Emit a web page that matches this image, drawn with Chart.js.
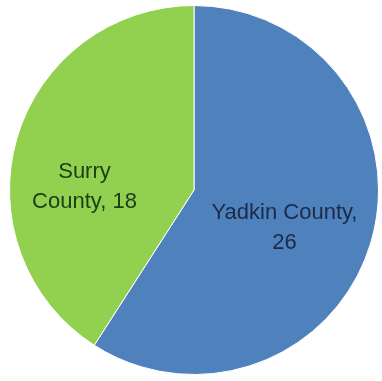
<!DOCTYPE html>
<html>
<head>
<meta charset="utf-8">
<script src="https://cdn.jsdelivr.net/npm/chart.js@4"></script>
<style>
  html, body { margin: 0; padding: 0; background: #ffffff; }
  #countyChart { display: block; }
</style>
</head>
<body>
<canvas id="countyChart" width="382" height="381"></canvas>
<script>
// Counties and their counts
const counties = ['Yadkin County', 'Surry County'];
const counts = [26, 18];
const sliceColors = ['#4f81bd', '#92d050'];
const labelColors = ['#1b2a48', '#1c3d14'];

// Draws "Name, value" labels inside each slice, wrapped the way the office chart does
const sliceLabels = {
    id: 'sliceLabels',
    afterDatasetsDraw(chart) {
        const ctx = chart.ctx;
        const meta = chart.getDatasetMeta(0);
        // line breaks and nudges for each slice label
        const layout = [
            { lines: i => [counties[i] + ',', String(counts[i])], dx: 2, dy: 12 },
            { lines: i => ['Surry', 'County, ' + counts[i]], dx: -21, dy: 23 }
        ];
        ctx.save();
        ctx.font = '22px "Liberation Sans", Arial, sans-serif';
        ctx.textAlign = 'center';
        ctx.textBaseline = 'middle';
        meta.data.forEach((arc, i) => {
            const p = arc.tooltipPosition();
            const lines = layout[i].lines(i);
            const lineHeight = 30;
            const top = p.y + layout[i].dy - (lines.length - 1) * lineHeight / 2;
            ctx.fillStyle = labelColors[i];
            lines.forEach((line, j) => {
                ctx.fillText(line, p.x + layout[i].dx, top + j * lineHeight);
            });
        });
        ctx.restore();
    }
};

const ctx = document.getElementById('countyChart').getContext('2d');
const countyChart = new Chart(ctx, {
    type: 'pie',
    data: {
        labels: counties,
        datasets: [{
            data: counts,
            backgroundColor: sliceColors,
            borderColor: '#ffffff',
            borderWidth: 1
        }]
    },
    options: {
        responsive: false,
        animation: false,
        layout: {
            padding: { top: 5, bottom: 6, left: 9, right: 3 }
        },
        plugins: {
            legend: { display: false },
            tooltip: { enabled: false }
        }
    },
    plugins: [sliceLabels]
});
</script>
</body>
</html>
